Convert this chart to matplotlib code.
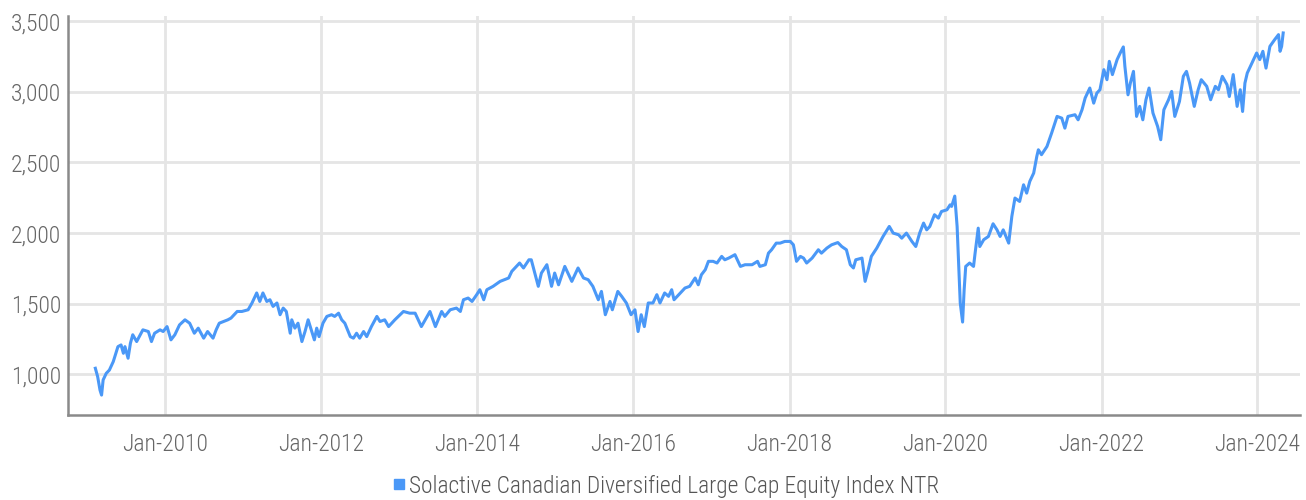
import matplotlib
matplotlib.use("Agg")
import matplotlib.pyplot as plt
import matplotlib.dates as mdates
import matplotlib.ticker as mticker
from matplotlib.lines import Line2D
import pandas as pd

# index level, time as decimal years
years = [
    2009.10, 2009.13, 2009.16, 2009.18, 2009.20, 2009.24, 2009.28, 2009.33, 2009.39, 2009.43,
    2009.46, 2009.48, 2009.52, 2009.55, 2009.58, 2009.63, 2009.71, 2009.78, 2009.82, 2009.86,
    2009.93, 2009.97, 2010.02, 2010.07, 2010.12, 2010.18, 2010.25, 2010.31, 2010.37, 2010.42,
    2010.49, 2010.54, 2010.61, 2010.65, 2010.69, 2010.80, 2010.84, 2010.92, 2010.98, 2011.06,
    2011.11, 2011.17, 2011.21, 2011.25, 2011.30, 2011.34, 2011.38, 2011.43, 2011.47, 2011.51,
    2011.55, 2011.60, 2011.62, 2011.66, 2011.70, 2011.75, 2011.79, 2011.83, 2011.87, 2011.91,
    2011.94, 2011.97, 2012.02, 2012.07, 2012.13, 2012.17, 2012.22, 2012.26, 2012.30, 2012.37,
    2012.41, 2012.45, 2012.49, 2012.54, 2012.58, 2012.64, 2012.71, 2012.75, 2012.81, 2012.86,
    2012.94, 2013.05, 2013.13, 2013.20, 2013.28, 2013.39, 2013.46, 2013.54, 2013.58, 2013.65,
    2013.73, 2013.78, 2013.82, 2013.88, 2013.93, 2013.99, 2014.03, 2014.08, 2014.12, 2014.20,
    2014.29, 2014.40, 2014.44, 2014.54, 2014.59, 2014.66, 2014.69, 2014.78, 2014.82, 2014.89,
    2014.95, 2014.99, 2015.04, 2015.12, 2015.21, 2015.29, 2015.36, 2015.42, 2015.48, 2015.55,
    2015.59, 2015.64, 2015.70, 2015.73, 2015.80, 2015.85, 2015.91, 2015.97, 2016.02, 2016.06,
    2016.10, 2016.14, 2016.19, 2016.25, 2016.30, 2016.34, 2016.40, 2016.45, 2016.49, 2016.52,
    2016.60, 2016.66, 2016.72, 2016.79, 2016.83, 2016.87, 2016.92, 2016.96, 2017.02, 2017.07,
    2017.13, 2017.17, 2017.22, 2017.30, 2017.37, 2017.43, 2017.52, 2017.59, 2017.62, 2017.69,
    2017.73, 2017.77, 2017.83, 2017.88, 2017.94, 2018.01, 2018.05, 2018.09, 2018.14, 2018.18,
    2018.22, 2018.29, 2018.37, 2018.41, 2018.48, 2018.54, 2018.62, 2018.67, 2018.73, 2018.78,
    2018.82, 2018.85, 2018.93, 2018.97, 2019.01, 2019.05, 2019.12, 2019.20, 2019.28, 2019.33,
    2019.40, 2019.44, 2019.50, 2019.57, 2019.62, 2019.67, 2019.72, 2019.76, 2019.80, 2019.86,
    2019.91, 2019.95, 2020.02, 2020.06, 2020.08, 2020.12, 2020.15, 2020.19, 2020.22, 2020.24,
    2020.26, 2020.31, 2020.36, 2020.38, 2020.42, 2020.44, 2020.49, 2020.55, 2020.61, 2020.66,
    2020.70, 2020.74, 2020.81, 2020.85, 2020.89, 2020.95, 2021.00, 2021.04, 2021.08, 2021.13,
    2021.17, 2021.19, 2021.23, 2021.30, 2021.36, 2021.43, 2021.49, 2021.53, 2021.57, 2021.66,
    2021.70, 2021.75, 2021.79, 2021.85, 2021.90, 2021.94, 2021.98, 2022.03, 2022.07, 2022.10,
    2022.14, 2022.20, 2022.24, 2022.28, 2022.30, 2022.34, 2022.37, 2022.41, 2022.45, 2022.49,
    2022.53, 2022.57, 2022.61, 2022.66, 2022.72, 2022.76, 2022.80, 2022.86, 2022.90, 2022.94,
    2023.00, 2023.05, 2023.09, 2023.13, 2023.19, 2023.24, 2023.28, 2023.35, 2023.40, 2023.46,
    2023.50, 2023.55, 2023.61, 2023.64, 2023.69, 2023.74, 2023.78, 2023.81, 2023.84, 2023.87,
    2023.93, 2023.99, 2024.03, 2024.07, 2024.11, 2024.16, 2024.22, 2024.27, 2024.29, 2024.31,
    2024.33,
]
levels = [
    1043, 983, 888, 853, 960, 1007, 1030, 1090, 1196, 1208,
    1149, 1196, 1114, 1220, 1280, 1232, 1315, 1303, 1232, 1291,
    1315, 1303, 1338, 1244, 1280, 1350, 1386, 1362, 1291, 1327,
    1256, 1303, 1256, 1315, 1362, 1386, 1398, 1445, 1445, 1457,
    1505, 1576, 1516, 1576, 1516, 1528, 1481, 1505, 1422, 1469,
    1445, 1291, 1386, 1327, 1362, 1232, 1303, 1386, 1315, 1244,
    1327, 1267, 1362, 1410, 1422, 1410, 1433, 1386, 1362, 1267,
    1256, 1291, 1256, 1303, 1267, 1338, 1410, 1374, 1386, 1338,
    1386, 1445, 1433, 1433, 1338, 1445, 1338, 1445, 1410, 1457,
    1469, 1445, 1528, 1540, 1516, 1564, 1599, 1528, 1599, 1623,
    1658, 1682, 1729, 1788, 1753, 1811, 1811, 1623, 1717, 1776,
    1623, 1717, 1634, 1764, 1658, 1753, 1682, 1670, 1623, 1528,
    1587, 1422, 1516, 1457, 1587, 1552, 1505, 1422, 1457, 1303,
    1422, 1338, 1505, 1505, 1564, 1505, 1576, 1552, 1599, 1528,
    1576, 1611, 1623, 1682, 1634, 1705, 1741, 1800, 1800, 1788,
    1835, 1811, 1823, 1847, 1764, 1776, 1776, 1800, 1764, 1776,
    1858, 1882, 1929, 1929, 1941, 1941, 1917, 1800, 1835, 1823,
    1788, 1823, 1882, 1858, 1894, 1917, 1933, 1905, 1882, 1776,
    1753, 1811, 1823, 1658, 1741, 1835, 1894, 1976, 2047, 2000,
    1988, 1964, 2000, 1941, 1905, 2000, 2071, 2023, 2047, 2130,
    2106, 2153, 2165, 2200, 2189, 2262, 2047, 1505, 1370, 1599,
    1764, 1788, 1764, 1858, 2035, 1905, 1953, 1976, 2066, 2023,
    1976, 2023, 1929, 2118, 2248, 2224, 2342, 2283, 2366, 2425,
    2543, 2590, 2555, 2613, 2708, 2826, 2814, 2743, 2826, 2838,
    2802, 2873, 2956, 3027, 2920, 2991, 3015, 3157, 3086, 3216,
    3122, 3228, 3275, 3318, 3180, 2979, 3062, 3145, 2826, 2897,
    2802, 2944, 3027, 2850, 2755, 2661, 2873, 2944, 3003, 2826,
    2932, 3110, 3145, 3062, 2897, 3015, 3086, 3039, 2944, 3039,
    3015, 3110, 3051, 2967, 3122, 2897, 3015, 2861, 3062, 3133,
    3204, 3275, 3228, 3287, 3168, 3322, 3369, 3405, 3287, 3322,
    3417,
]

series_name = "Solactive Canadian Diversified Large Cap Equity Index NTR"
y_ticks = [1000, 1500, 2000, 2500, 3000, 3500]
x_tick_years = [2010, 2012, 2014, 2016, 2018, 2020, 2022, 2024]

LINE = "#4a98f7"
GRID = "#e5e5e5"
TEXT = "#666666"
FONT = ["Liberation Sans Narrow", "Roboto Condensed", "DejaVu Sans"]


def to_date(t):
    y = int(t)
    start = pd.Timestamp(y, 1, 1)
    return start + (pd.Timestamp(y + 1, 1, 1) - start) * (t - y)


dates = [to_date(t) for t in years]

plt.rcParams["font.family"] = FONT
plt.rcParams["font.weight"] = "light"
fig = plt.figure(figsize=(13.06, 5.0), dpi=100)
ax = fig.add_axes([68 / 1306, 85 / 500, 1232 / 1306, 399 / 500])

ax.plot(dates, levels, color=LINE, lw=2.2, solid_joinstyle="round")

ax.set_xlim(to_date(2008.75), to_date(2024.545))
ax.set_ylim(712, 3537)

ax.set_yticks(y_ticks)
ax.yaxis.set_major_formatter(mticker.StrMethodFormatter("{x:,.0f}"))
ax.set_xticks([pd.Timestamp(y, 1, 1) for y in x_tick_years])
ax.xaxis.set_major_formatter(mdates.DateFormatter("%b-%Y"))

ax.grid(True, color=GRID, lw=2)
ax.set_axisbelow(True)
for side in ("top", "right"):
    ax.spines[side].set_visible(False)
for side in ("left", "bottom"):
    ax.spines[side].set_color("#8a8a8a")
    ax.spines[side].set_linewidth(1.8)

ax.tick_params(axis="both", length=0, labelsize=17, labelcolor=TEXT)
ax.tick_params(axis="y", pad=5)
ax.tick_params(axis="x", pad=13)

handle = Line2D([], [], color=LINE, marker="s", markersize=7.5, linestyle="none")
fig.legend([handle], [series_name], loc="center", bbox_to_anchor=(665 / 1306, 1 - 486 / 500),
           frameon=False, fontsize=16.8, labelcolor="#555555", handletextpad=0.05,
           handlelength=0.7)

fig.savefig("out.png", dpi=100)
